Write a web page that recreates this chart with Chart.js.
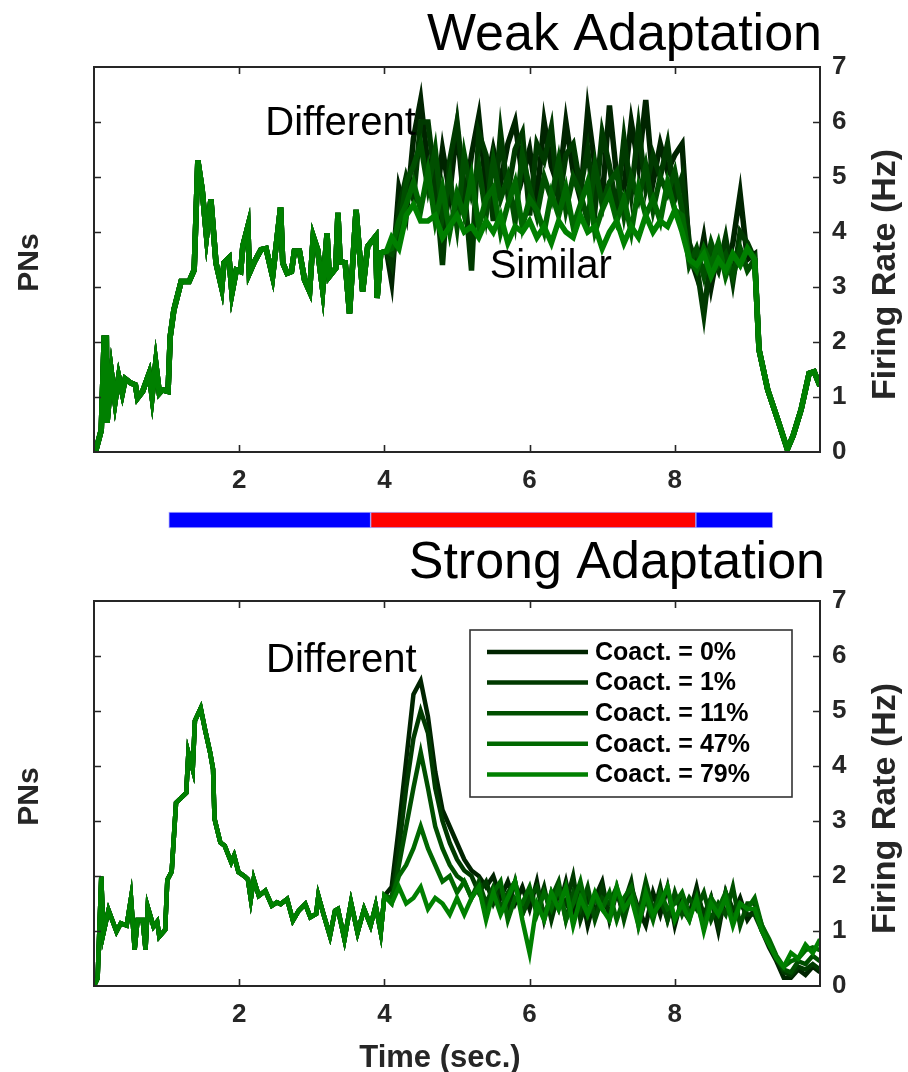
<!DOCTYPE html>
<html><head><meta charset="utf-8">
<script src="https://cdn.jsdelivr.net/npm/chart.js@4.4.1/dist/chart.umd.min.js"></script>
<style>
html,body{margin:0;padding:0;background:#fff;width:908px;height:1072px;overflow:hidden}
canvas{position:absolute;left:0}
</style></head><body>
<canvas id="topChart" width="908" height="500" style="top:0"></canvas>
<canvas id="stimChart" width="908" height="48" style="top:496px"></canvas>
<canvas id="botChart" width="908" height="537" style="top:535px"></canvas>
<script>
// ---------- data ----------
const seriesNames = ['Coact. = 0%', 'Coact. = 1%', 'Coact. = 11%', 'Coact. = 47%', 'Coact. = 79%'];
const xTicks = [2, 4, 6, 8];

// Weak adaptation: shared response before the odor switch
const topCommonT = [0.02,0.1,0.14,0.17,0.18,0.24,0.29,0.34,0.39,0.43,0.5,0.57,0.6,0.67,0.76,0.8,0.85,0.9,0.94,1.02,1.05,1.1,1.16,1.2,1.31,1.38,1.43,1.49,1.55,1.61,1.68,1.76,1.79,1.86,1.9,1.96,2.02,2.05,2.12,2.14,2.21,2.3,2.37,2.46,2.57,2.6,2.66,2.72,2.76,2.83,2.9,2.97,3.02,3.08,3.15,3.21,3.24,3.33,3.36,3.39,3.46,3.52,3.61,3.7,3.77,3.88,3.9,3.95,4.03];
const topCommonV = [0,0.4,2.07,2.07,0.53,1.44,0.92,1.37,1.07,1.33,1.26,1.22,0.98,1.1,1.43,1.01,1.62,1.07,1.13,1.1,2.1,2.58,2.89,3.1,3.1,3.31,5.3,4.77,3.92,4.59,3.44,2.98,3.44,3.53,2.89,3.31,3.28,3.74,4.1,3.25,3.46,3.68,3.7,3.19,4.45,3.44,3.25,3.28,3.65,3.65,3.13,2.92,3.92,3.68,2.95,3.98,3.19,3.34,4.35,3.46,3.44,2.52,4.4,2.92,3.74,3.92,2.8,3.62,3.65];
const topGridT = [4.1,4.2,4.3,4.4,4.5,4.6,4.7,4.8,4.9,5.0,5.1,5.2,5.3,5.4,5.5,5.6,5.7,5.8,5.9,6.0,6.1,6.2,6.3,6.4,6.5,6.6,6.7,6.8,6.9,7.0,7.1,7.2,7.3,7.4,7.5,7.6,7.7,7.8,7.9,8.0,8.1,8.2,8.3,8.4,8.5,8.6,8.7,8.8,8.9,9.0,9.1];
const topS0 = [3.1,4.8,4.3,5.7,6.4,5.2,4.4,5.5,4.7,5.9, 4.5,5.4,6.1,4.8,5.5,4.9,5.6,6.0,5.0,5.5, 4.6,6.0,5.2,4.8,6.0,5.1,4.6,6.2,5.2,4.6, 6.3,5.0,4.8,6.0,5.2,6.4,4.9,5.6,5.1,5.4, 5.6,3.6,3.2,3.9,3.0,3.7,3.3,3.8,4.7,3.5,3.6];
const topS1 = [3.4,4.4,5.0,4.6,6.0,6.0,4.9,3.4,5.3,6.0, 4.8,3.3,5.8,5.4,4.2,5.8,4.7,5.5,5.8,4.3, 5.6,5.3,5.9,4.5,5.4,5.6,4.8,5.5,4.4,5.8, 5.2,4.4,5.7,4.7,5.9,4.8,5.4,5.0,5.6,4.6, 5.0,3.8,3.4,2.5,3.6,3.3,3.9,3.1,4.0,3.8,3.5];
const topS2 = [3.6,4.0,4.9,5.2,5.6,4.8,5.5,4.3,5.0,4.1, 5.4,4.7,5.2,4.3,5.3,4.6,5.0,4.2,5.4,4.8, 4.3,5.0,4.6,5.3,4.4,5.0,4.7,4.2,5.2,4.5, 4.9,5.1,4.3,5.0,4.6,5.2,4.4,5.0,4.7,5.1, 4.4,3.4,3.7,3.2,3.8,3.4,3.6,3.2,3.7,3.3,3.5];
const topS3 = [3.7,4.2,4.5,4.9,4.4,5.1,4.2,4.8,4.0,4.7, 4.3,5.0,4.1,4.6,4.8,4.0,4.5,4.9,4.1,4.6, 4.4,4.0,4.7,4.3,4.8,4.1,4.5,4.9,4.0,4.4, 4.7,4.2,4.6,4.0,4.8,4.3,4.6,4.2,4.9,4.4, 4.3,3.5,3.3,3.7,3.4,3.8,3.2,3.6,3.4,3.7,3.5];
const topS4 = [3.9,3.7,4.3,4.5,4.2,4.2,4.3,3.9,4.1,4.3, 4.0,4.1,3.9,4.2,4.0,4.3,3.8,4.1,4.0,4.2, 3.9,4.1,3.8,4.2,4.0,3.9,4.3,4.0,4.1,3.7, 4.0,4.2,3.8,4.1,3.9,4.3,4.0,4.2,4.1,4.4, 4.0,3.5,3.4,3.6,3.2,3.5,3.3,3.6,3.4,3.7,3.5];
const topTailT = [9.16,9.28,9.42,9.55,9.63,9.74,9.85,9.92,10.0];
const topTailV = [1.86,1.13,0.58,0.05,0.3,0.77,1.43,1.46,1.2];

// Strong adaptation
const botCommonT = [0.0,0.05,0.1,0.13,0.2,0.31,0.37,0.45,0.51,0.56,0.6,0.67,0.71,0.74,0.82,0.87,0.9,0.98,1.01,1.07,1.13,1.2,1.27,1.3,1.36,1.39,1.47,1.53,1.6,1.64,1.66,1.74,1.8,1.89,1.93,1.99,2.07,2.12,2.16,2.2,2.27,2.36,2.45,2.52,2.57,2.66,2.74,2.82,2.91,2.98,3.06,3.09,3.16,3.25,3.32,3.36,3.45,3.54,3.63,3.72,3.81,3.88,3.95,4.0];
const botCommonV = [0,0.14,1.99,0.96,1.38,0.99,1.14,1.1,1.6,0.66,1.2,1.2,0.66,1.44,1.08,1.17,0.9,1.02,1.93,2.08,3.33,3.42,3.51,4.24,3.94,4.82,5.05,4.66,4.24,3.94,3.04,2.61,2.55,2.25,2.37,2.07,2.0,1.94,1.58,1.94,1.64,1.73,1.46,1.52,1.49,1.58,1.19,1.37,1.49,1.25,1.31,1.64,1.31,0.91,1.37,1.4,0.85,1.52,0.97,1.4,1.1,1.46,0.97,1.64];
const botGridT = [4.1,4.2,4.3,4.4,4.5,4.6,4.7,4.8,4.9,5.0,5.1,5.2,5.3,5.4,5.5,5.6,5.7,5.8,5.9,6.0,6.1,6.2,6.3,6.4,6.5,6.6,6.7,6.8,6.9,7.0,7.1,7.2,7.3,7.4,7.5,7.6,7.7,7.8,7.9,8.0,8.1,8.2,8.3,8.4,8.5,8.6,8.7,8.8,8.9,9.0,9.1,9.2,9.3,9.4,9.5,9.6,9.7,9.8,9.9,10.0];
const botS0 = [1.8,2.9,4.1,5.3,5.55,4.9,3.9,3.2,2.9,2.6, 2.3,2.1,2.0,1.8,2.0,1.6,1.9,1.5,1.8,1.4, 1.9,1.2,1.7,1.4,1.9,1.3,1.8,1.1,1.6,1.9, 1.2,1.7,1.3,1.8,1.4,1.1,1.7,1.3,1.8,1.1, 1.6,1.3,1.8,1.2,1.6,1.0,1.7,1.3,1.6,1.2, 1.4,1.0,0.7,0.45,0.15,0.15,0.3,0.2,0.35,0.25];
const botS1 = [1.6,2.5,3.6,4.5,5.0,4.6,3.6,3.0,2.6,2.3, 2.1,2.0,1.7,1.9,1.5,1.8,1.4,1.9,1.3,1.7, 1.4,1.8,1.2,1.7,1.5,2.0,1.2,1.6,1.3,1.8, 1.3,1.7,1.5,1.9,1.1,1.6,1.3,1.8,1.2,1.6, 1.4,1.2,1.7,1.3,1.6,1.1,1.7,1.4,1.5,1.3, 1.3,1.0,0.75,0.5,0.25,0.2,0.35,0.3,0.4,0.3];
const botS2 = [1.5,2.2,2.9,3.6,4.25,3.6,2.9,2.5,2.2,2.0, 1.9,1.6,1.9,1.5,1.8,1.4,1.7,1.9,1.3,1.6, 1.8,1.3,1.6,1.9,1.2,1.7,1.4,1.8,1.2,1.6, 1.5,1.8,1.2,1.7,1.3,1.9,1.4,1.6,1.2,1.7, 1.3,1.6,1.4,1.7,1.2,1.5,1.3,1.8,1.1,1.5, 1.5,1.1,0.8,0.5,0.3,0.25,0.45,0.4,0.55,0.45];
const botS3 = [1.6,2.0,2.2,2.5,2.9,2.5,2.2,1.9,2.0,1.7, 1.9,1.6,1.8,1.3,1.7,1.9,1.2,1.6,1.5,1.8, 1.3,1.7,1.4,1.8,1.2,1.5,1.9,1.3,1.6,1.4, 1.7,1.2,1.6,1.8,1.3,1.6,1.2,1.7,1.4,1.5, 1.7,1.3,1.5,1.1,1.6,1.4,1.7,1.2,1.5,1.4, 1.6,1.1,0.85,0.55,0.35,0.45,0.5,0.65,0.7,0.65];
const botS4 = [1.5,1.8,1.5,1.6,1.8,1.4,1.6,1.5,1.3,1.6, 1.3,1.6,1.8,1.2,1.7,1.3,1.6,1.9,1.2,0.6, 1.5,1.2,1.7,1.4,1.8,1.1,1.6,1.3,1.7,1.4, 1.2,1.8,1.4,1.6,1.1,1.7,1.3,1.5,1.8,1.2, 1.5,1.2,1.6,1.0,1.5,1.3,1.6,1.1,1.5,1.4, 1.4,1.0,0.75,0.5,0.35,0.6,0.5,0.75,0.6,0.85];

// stimulus bar (seconds)
const stimStart = [1.03, 3.81, 8.29];
const stimEnd = [3.81, 8.29, 9.35];

// ---------- styling / helpers ----------
const FONT = "'Liberation Sans', Arial, Helvetica, sans-serif";
Chart.defaults.font.family = FONT;
const lineColors = ['#002400', '#003a00', '#004f00', '#006800', '#008000'];
const axisColor = '#262626';

function pts(ts, vs) { return ts.map((t, i) => ({ x: t, y: vs[i] })); }

const framePlugin = {
  id: 'frame',
  afterDatasetsDraw(chart) {
    const { ctx, chartArea: a, scales: { x, y } } = chart;
    ctx.save();
    ctx.strokeStyle = axisColor;
    ctx.lineWidth = 1.6;
    ctx.beginPath();
    x.ticks.forEach(t => {
      if (t.value <= x.min || t.value >= x.max) return;
      const px = Math.round(x.getPixelForValue(t.value)) + 0.5;
      ctx.moveTo(px, a.bottom); ctx.lineTo(px, a.bottom - 7);
      ctx.moveTo(px, a.top); ctx.lineTo(px, a.top + 7);
    });
    y.ticks.forEach(t => {
      if (t.value <= y.min || t.value >= y.max) return;
      const py = Math.round(y.getPixelForValue(t.value)) + 0.5;
      ctx.moveTo(a.left, py); ctx.lineTo(a.left + 7, py);
      ctx.moveTo(a.right, py); ctx.lineTo(a.right - 7, py);
    });
    ctx.stroke();
    ctx.lineWidth = 2;
    ctx.strokeRect(a.left, a.top, a.right - a.left, a.bottom - a.top);
    ctx.restore();
  }
};

const textPlugin = {
  id: 'texts',
  afterDraw(chart, args, o) {
    const { ctx, chartArea: a, scales: { x, y } } = chart;
    ctx.save();
    // panel title
    ctx.fillStyle = '#000';
    ctx.font = '52px ' + FONT;
    ctx.textAlign = 'right';
    ctx.textBaseline = 'alphabetic';
    ctx.fillText(o.title, a.right + o.titleDx, o.titleBaseline);
    // annotations at data coordinates
    ctx.font = '40px ' + FONT;
    ctx.textAlign = 'left';
    o.notes.forEach(n => ctx.fillText(n.text, x.getPixelForValue(n.t), y.getPixelForValue(n.v)));
    // axis titles
    ctx.fillStyle = axisColor;
    ctx.textAlign = 'center';
    const cy = (a.top + a.bottom) / 2;
    ctx.font = 'bold 30px ' + FONT;
    ctx.save(); ctx.translate(38, cy + 3); ctx.rotate(-Math.PI / 2); ctx.fillText('PNs', 0, 0); ctx.restore();
    ctx.font = 'bold 34px ' + FONT;
    ctx.save(); ctx.translate(895, cy + 15); ctx.rotate(-Math.PI / 2); ctx.fillText('Firing Rate (Hz)', 0, 0); ctx.restore();
    if (o.xTitle) {
      ctx.font = 'bold 31px ' + FONT;
      ctx.fillText(o.xTitle, 440, o.xTitleBaseline);
    }
    // legend
    if (o.legend) {
      const L = o.legend;
      ctx.fillStyle = '#fff';
      ctx.fillRect(L.left, L.top, L.width, L.height);
      ctx.strokeStyle = '#333';
      ctx.lineWidth = 1.6;
      ctx.strokeRect(L.left, L.top, L.width, L.height);
      ctx.font = 'bold 25px ' + FONT;
      ctx.textAlign = 'left';
      ctx.textBaseline = 'middle';
      chart.data.datasets.forEach((ds, i) => {
        const ry = L.top + 22 + i * 30.6;
        ctx.strokeStyle = ds.borderColor;
        ctx.lineWidth = 4.5;
        ctx.beginPath(); ctx.moveTo(L.left + 17, ry); ctx.lineTo(L.left + 118, ry); ctx.stroke();
        ctx.fillStyle = '#000';
        ctx.fillText(ds.label, L.left + 125, ry + 1);
      });
    }
    ctx.restore();
  }
};

function mainChart(id, datasets, cfg) {
  return new Chart(document.getElementById(id), {
    type: 'line',
    data: { datasets },
    options: {
      responsive: false,
      animation: false,
      events: [],
      layout: { padding: { left: 94, top: cfg.padTop, right: 0, bottom: 0 } },
      elements: { point: { radius: 0 }, line: { tension: 0, borderJoinStyle: 'miter' } },
      plugins: { legend: { display: false }, tooltip: { enabled: false }, texts: cfg.texts },
      scales: {
        x: {
          type: 'linear', min: 0, max: 10, position: 'bottom',
          grid: { display: false, drawTicks: false }, border: { display: false },
          afterBuildTicks: s => { s.ticks = [0].concat(xTicks, [10]).map(v => ({ value: v })); },
          ticks: {
            autoSkip: false, maxRotation: 0, padding: 13, color: axisColor,
            font: { size: 26, weight: 'bold' },
            callback: v => (xTicks.includes(v) ? String(v) : '')
          },
          afterFit: s => { s.height = cfg.xHeight; }
        },
        y: {
          type: 'linear', position: 'right', min: 0, max: 7,
          grid: { display: false, drawTicks: false }, border: { display: false },
          ticks: { stepSize: 1, padding: 12, color: axisColor, font: { size: 26, weight: 'bold' } },
          afterFit: s => { s.width = 88; }
        }
      }
    },
    plugins: [framePlugin, textPlugin]
  });
}

// ---------- top: weak adaptation ----------
const topSeries = [topS0, topS1, topS2, topS3, topS4];
mainChart('topChart', seriesNames.map((name, k) => ({
  label: name,
  data: [...pts(topCommonT, topCommonV), ...pts(topGridT, topSeries[k]), ...pts(topTailT, topTailV)],
  borderColor: lineColors[k], borderWidth: 5.5, fill: false, order: 5 - k
})), {
  padTop: 67, xHeight: 48,
  texts: {
    title: 'Weak Adaptation', titleDx: 2, titleBaseline: 50,
    notes: [{ text: 'Different', t: 2.36, v: 5.76 }, { text: 'Similar', t: 5.45, v: 3.16 }]
  }
});

// ---------- stimulus bar ----------
const stimColors = ['#0000ff', '#ff0000', '#0000ff'];
new Chart(document.getElementById('stimChart'), {
  type: 'bar',
  data: {
    labels: ['stimulus'],
    datasets: stimStart.map((s, i) => ({
      data: [[s, stimEnd[i]]], backgroundColor: stimColors[i],
      borderColor: 'rgba(120,120,255,0.6)', borderWidth: 1, borderSkipped: false,
      barThickness: 16, grouped: false
    }))
  },
  options: {
    indexAxis: 'y', responsive: false, animation: false, events: [],
    layout: { padding: { left: 94, right: 88, top: 0, bottom: 0 } },
    plugins: { legend: { display: false }, tooltip: { enabled: false } },
    scales: { x: { type: 'linear', min: 0, max: 10, display: false }, y: { display: false } }
  }
});

// ---------- bottom: strong adaptation ----------
const botSeries = [botS0, botS1, botS2, botS3, botS4];
mainChart('botChart', seriesNames.map((name, k) => ({
  label: name,
  data: [...pts(botCommonT, botCommonV), ...pts(botGridT, botSeries[k])],
  borderColor: lineColors[k], borderWidth: 4.5, fill: false, order: 5 - k
})), {
  padTop: 66, xHeight: 86,
  texts: {
    title: 'Strong Adaptation', titleDx: 5, titleBaseline: 43,
    notes: [{ text: 'Different', t: 2.37, v: 5.71 }],
    xTitle: 'Time (sec.)', xTitleBaseline: 532,
    legend: { left: 376 + 94, top: 95, width: 322, height: 167 }
  }
});
</script>
</body></html>
